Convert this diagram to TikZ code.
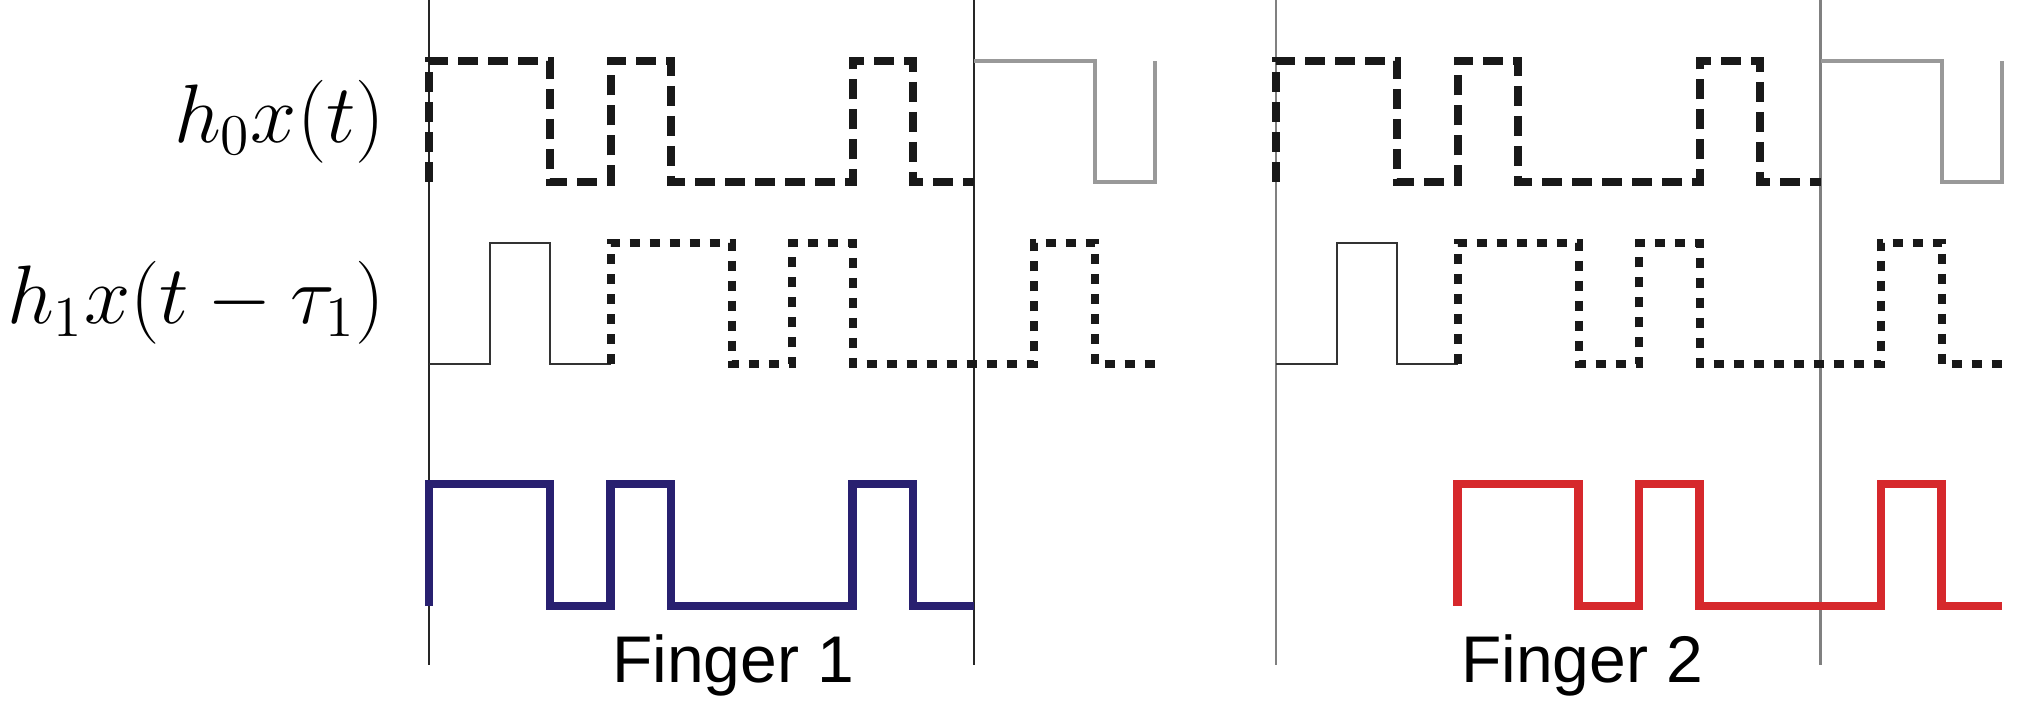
\documentclass[tikz,border=0pt]{standalone}
\usepackage{amsmath}
\usepackage{fontspec}
\usepackage{tikz}

\newfontfamily\fingerfont{Liberation Sans}
\definecolor{fingerblue}{RGB}{40,32,112}
\definecolor{fingerred}{RGB}{214,40,44}

\tikzset{
  window/.style={line width=0.5pt, black!85},
  windowgray/.style={line width=0.7pt, black!50},
  codedash/.style={line width=2pt, black!90, dash pattern=on 5pt off 2.5pt},
  codedot/.style={line width=2pt, black!90, dash pattern=on 2.5pt off 2.5pt},
  tailthin/.style={line width=0.5pt, black!80},
  nextgray/.style={line width=1pt, black!40},
  sumline/.style={line width=2.2pt},
  rowlabel/.style={anchor=east, inner sep=0pt, font=\fontsize{19.5}{23}\selectfont},
  fingerlabel/.style={anchor=base, inner sep=0pt, font=\fingerfont\fontsize{16.5}{20}\selectfont}
}

\begin{document}
\begin{tikzpicture}[x=15.125pt, y=-0.25pt]

    \useasboundingbox (-7.091,0) rectangle (26.595,704);

    % chip windows
    \draw[window] (0,0) -- (0,665);
    \draw[window] (9,0) -- (9,665);
    \draw[windowgray] (14,0) -- (14,665);
    \draw[windowgray] (23,0) -- (23,665);

    % row labels
    \node[rowlabel] (hzero) at (-0.71,121.5) {$h_0x(t)$};
    \node[rowlabel] (hone) at (-0.71,303) {$h_1x(t-\tau_1)$};

    % finger 1
    \draw[codedash] (0,182) |- (2,61) |- (3,182) |- (4,61) |- (7,182) |- (8,61) |- (9,182);
    \draw[nextgray] (9,61) -| (11,182) -| (12,61);
    \draw[tailthin] (0,364) -| (1,243) -| (2,364) -- (3,364);
    \draw[codedot] (3,364) |- (5,243) |- (6,364) |- (7,243) |- (10,364) |- (11,243) |- (12,364);
    \draw[sumline, fingerblue] (0,606) |- (2,484) |- (3,606) |- (4,484) |- (7,606) |- (8,484) |- (9,606);

    % finger 2
    \draw[codedash] (14,182) |- (16,61) |- (17,182) |- (18,61) |- (21,182) |- (22,61) |- (23,182);
    \draw[nextgray] (23,61) -| (25,182) -| (26,61);
    \draw[tailthin] (14,364) -| (15,243) -| (16,364) -- (17,364);
    \draw[codedot] (17,364) |- (19,243) |- (20,364) |- (21,243) |- (24,364) |- (25,243) |- (26,364);
    \draw[sumline, fingerred] (17,606) |- (19,484) |- (20,606) |- (21,484) |- (24,606) |- (25,484) |- (26,606);

    \node[fingerlabel] (fingerone) at (5.03,683) {Finger 1};
    \node[fingerlabel] (fingertwo) at (19.06,683) {Finger 2};

\end{tikzpicture}
\end{document}
